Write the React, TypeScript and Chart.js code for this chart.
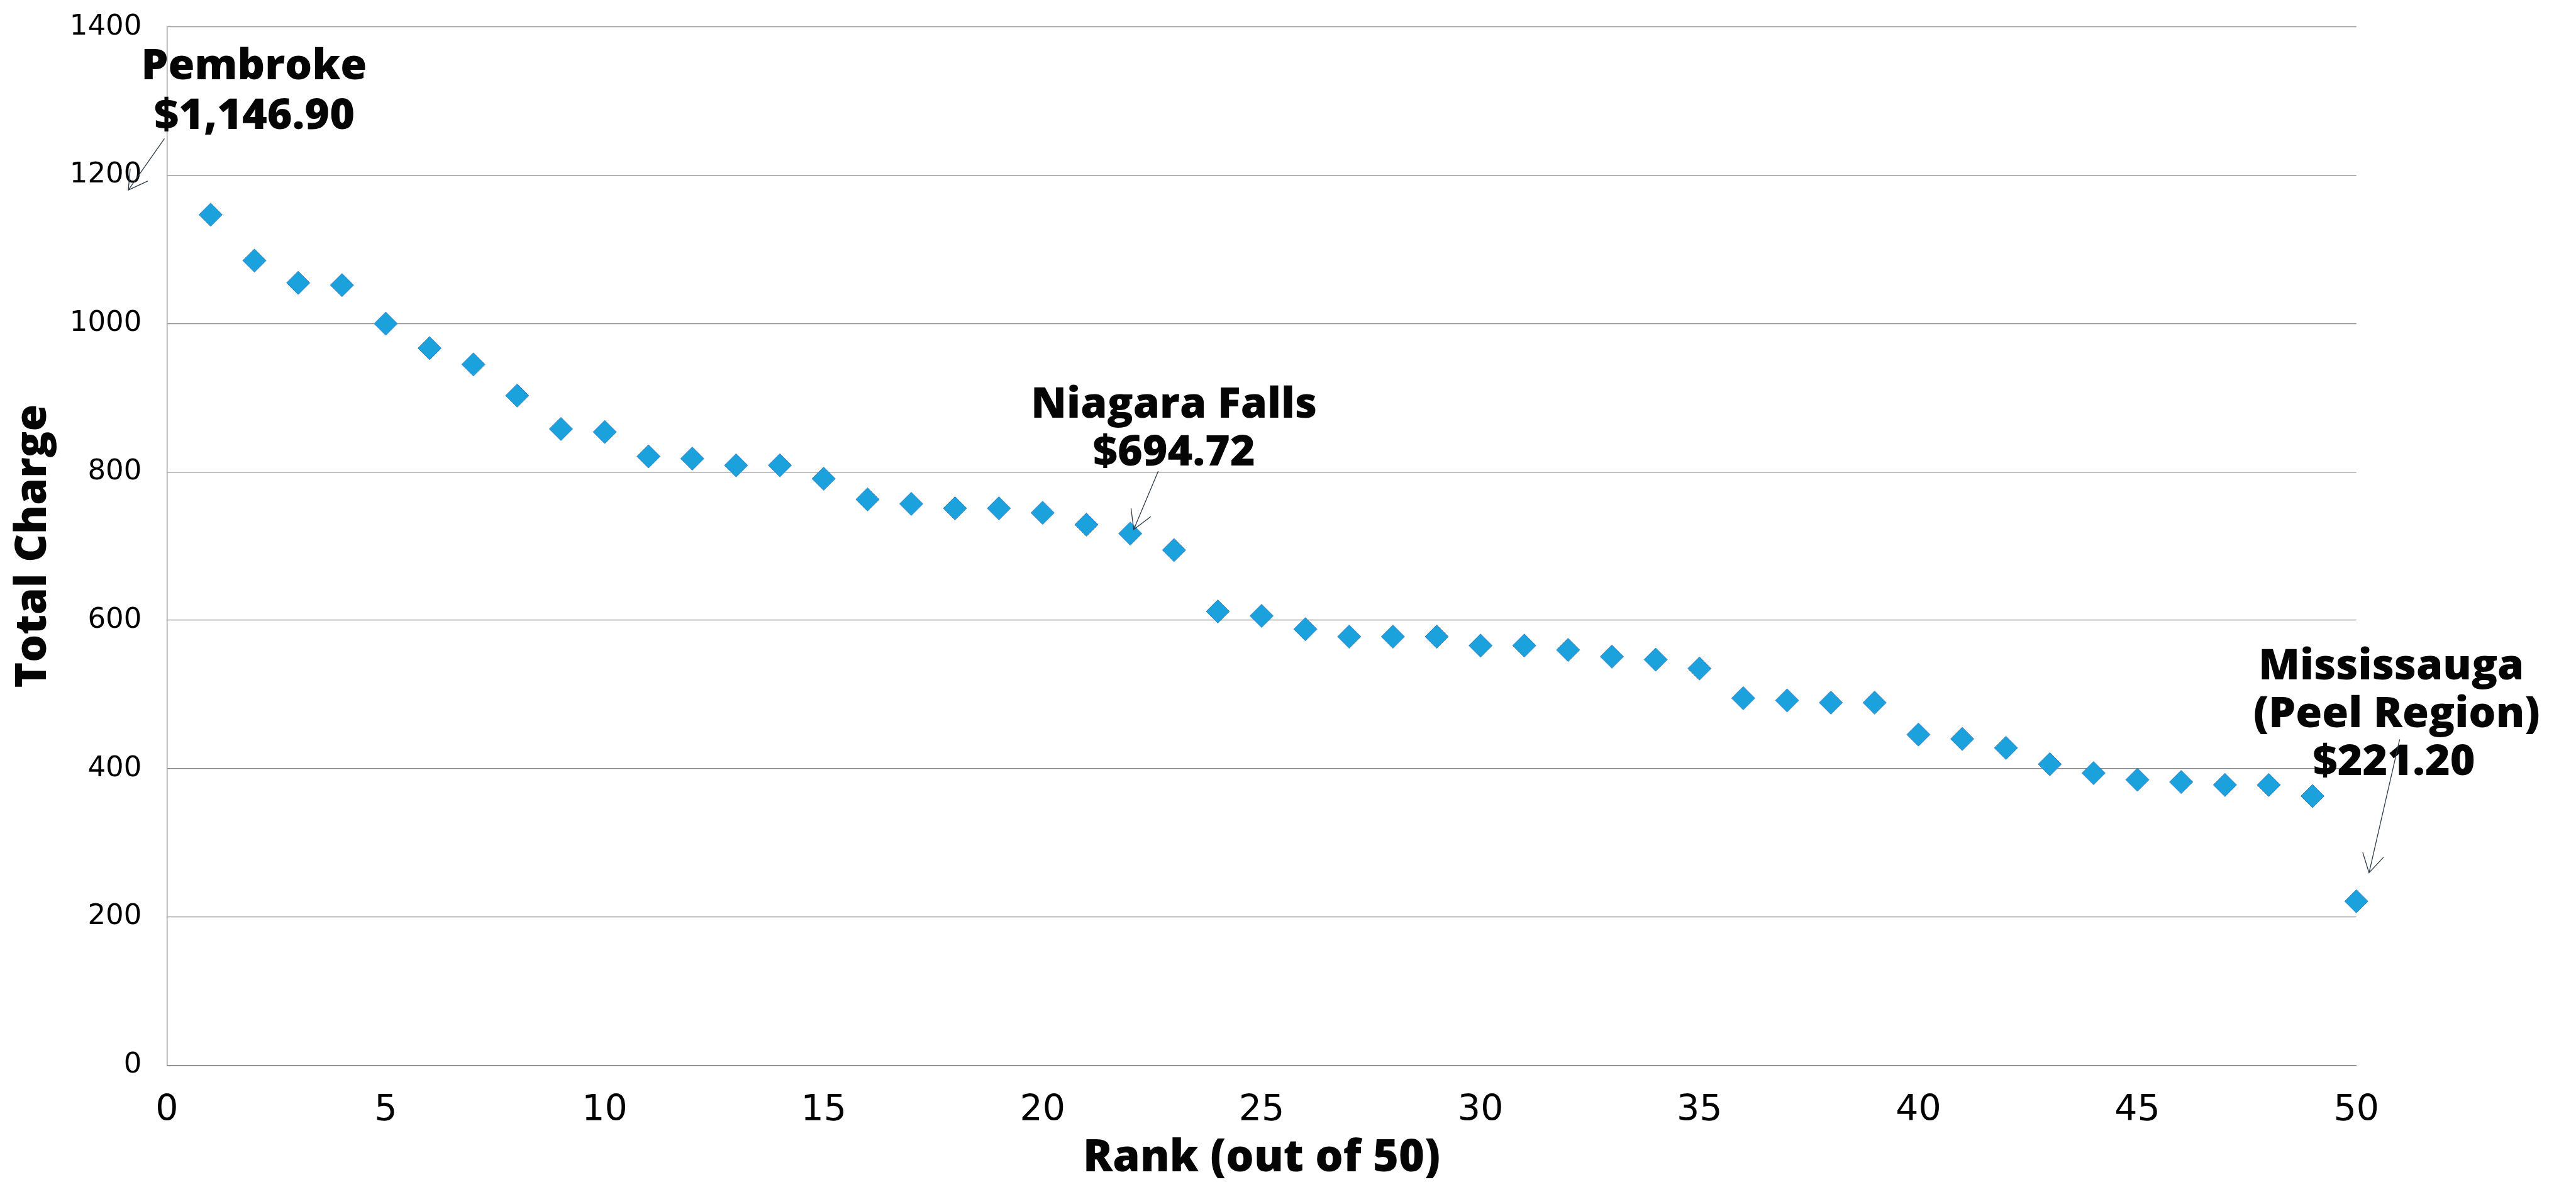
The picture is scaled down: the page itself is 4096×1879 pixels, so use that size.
import React, { useEffect, useRef } from 'react';
import { Chart, registerables } from 'chart.js';

Chart.register(...registerables);

// ---- data ----
const ranks = [
  1, 2, 3, 4, 5, 6, 7, 8, 9, 10,
  11, 12, 13, 14, 15, 16, 17, 18, 19, 20,
  21, 22, 23, 24, 25, 26, 27, 28, 29, 30,
  31, 32, 33, 34, 35, 36, 37, 38, 39, 40,
  41, 42, 43, 44, 45, 46, 47, 48, 49, 50,
];
const totalCharge = [
  1146.9, 1085, 1055, 1052, 1000, 967, 945, 903, 858, 854,
  821, 818, 809, 809, 791, 763, 757, 751, 751, 745,
  729, 717, 694.72, 612, 606, 588, 578, 578, 578, 566,
  566, 560, 551, 547, 535, 495, 492, 489, 489, 446,
  440, 428, 406, 394, 385, 382, 378, 378, 363, 221.2,
];
const xTickValues = [0, 5, 10, 15, 20, 25, 30, 35, 40, 45, 50];
const yTickValues = [0, 200, 400, 600, 800, 1000, 1200, 1400];
const xTitle = 'Rank (out of 50)';
const yTitle = 'Total Charge';

// ---- callouts (anchors in data units) ----
const calloutLines = [
  ['Pembroke', '$1,146.90'],
  ['Niagara Falls', '$694.72'],
  ['Mississauga', '(Peel Region)', '$221.20'],
];
const calloutTextX = [
  [1.99, 2.0],
  [23.0, 23.0],
  [50.8, 50.92, 50.86],
];
const calloutTextY = [
  [1329.7, 1262.4],
  [873.4, 808.9],
  [520.3, 455.9, 391.1],
];
const arrowFrom = [
  [-0.055, 1249.5],
  [22.64, 801.1],
  [50.99, 439.4],
];
const arrowTo = [
  [-0.88, 1180.1],
  [22.08, 722.4],
  [50.29, 259.5],
];

const BOLD_FONT = '"Open Sans", "DejaVu Sans", sans-serif';
const TICK_FONT = '"DejaVu Sans", sans-serif';

const calloutPlugin = {
  id: 'callouts',
  afterDatasetsDraw(chart: any) {
    const { ctx } = chart;
    const xs = chart.scales.x;
    const ys = chart.scales.y;
    ctx.save();
    ctx.fillStyle = '#050505';
    ctx.font = `800 68px ${BOLD_FONT}`;
    ctx.textAlign = 'center';
    ctx.textBaseline = 'alphabetic';
    calloutLines.forEach((lines, k) => {
      lines.forEach((t, i) => {
        ctx.fillText(t, xs.getPixelForValue(calloutTextX[k][i]), ys.getPixelForValue(calloutTextY[k][i]));
      });
    });
    ctx.strokeStyle = '#2b3b4b';
    ctx.lineWidth = 1.3;
    const headLen = 34;
    const headAng = (30 * Math.PI) / 180;
    arrowFrom.forEach((f, k) => {
      const x0 = xs.getPixelForValue(f[0]);
      const y0 = ys.getPixelForValue(f[1]);
      const x1 = xs.getPixelForValue(arrowTo[k][0]);
      const y1 = ys.getPixelForValue(arrowTo[k][1]);
      const ang = Math.atan2(y0 - y1, x0 - x1);
      ctx.beginPath();
      ctx.moveTo(x0, y0);
      ctx.lineTo(x1, y1);
      ctx.moveTo(x1 + headLen * Math.cos(ang - headAng), y1 + headLen * Math.sin(ang - headAng));
      ctx.lineTo(x1, y1);
      ctx.lineTo(x1 + headLen * Math.cos(ang + headAng), y1 + headLen * Math.sin(ang + headAng));
      ctx.stroke();
    });
    ctx.restore();
  },
};

export default function App() {
  const canvasRef = useRef<HTMLCanvasElement | null>(null);

  useEffect(() => {
    document.body.style.margin = '0';
    const canvas = canvasRef.current;
    if (!canvas) return;
    const chart = new Chart(canvas, {
      type: 'scatter',
      data: {
        datasets: [
          {
            data: ranks.map((r, i) => ({ x: r, y: totalCharge[i] })),
            pointStyle: 'rectRot',
            pointRadius: 18.5,
            pointHoverRadius: 18.5,
            backgroundColor: '#1ba1dc',
            borderColor: '#3a80c8',
            borderWidth: 1,
            clip: false,
          } as any,
        ],
      },
      options: {
        animation: false,
        responsive: true,
        maintainAspectRatio: false,
        events: [],
        layout: { padding: { top: 42.9, right: 349.3, left: 0, bottom: 0 } },
        plugins: { legend: { display: false }, tooltip: { enabled: false } },
        scales: {
          x: {
            type: 'linear',
            min: 0,
            max: 50,
            afterBuildTicks: (s: any) => {
              s.ticks = xTickValues.map((v) => ({ value: v }));
            },
            afterFit: (s: any) => {
              s.height = 185.5;
              s.paddingLeft = 0;
              s.paddingRight = 0;
            },
            grid: { display: false, drawTicks: false },
            border: { display: true, color: '#898989', width: 1.4 },
            ticks: {
              font: { family: TICK_FONT, size: 57, weight: 'normal' },
              color: '#000000',
              padding: 38,
              maxRotation: 0,
              autoSkip: false,
              callback: (v: any) => String(v),
            },
            title: {
              display: true,
              text: xTitle,
              color: '#050505',
              font: { family: BOLD_FONT, size: 70, weight: 800 as any, lineHeight: 1 },
              padding: { top: 0, bottom: 2 },
            },
          },
          y: {
            type: 'linear',
            min: 0,
            max: 1400,
            afterBuildTicks: (s: any) => {
              s.ticks = yTickValues.map((v) => ({ value: v }));
            },
            afterFit: (s: any) => {
              s.width = 265.3;
              s.paddingTop = 0;
              s.paddingBottom = 0;
            },
            grid: { display: true, color: '#898989', lineWidth: 1.3, drawTicks: false },
            border: { display: true, color: '#898989', width: 1.4 },
            ticks: {
              font: { family: TICK_FONT, size: 45, weight: 'normal' },
              color: '#000000',
              padding: 40,
              autoSkip: false,
              callback: (v: any) => String(v),
            },
            title: {
              display: true,
              text: yTitle,
              color: '#050505',
              font: { family: BOLD_FONT, size: 69, weight: 800 as any, lineHeight: 1 },
              padding: { top: 19, bottom: 0 },
            },
          },
        },
      },
      plugins: [calloutPlugin],
    });
    return () => chart.destroy();
  }, []);

  return (
    <div style={{ position: 'fixed', left: 0, top: 0, width: '4096px', height: '1879px', background: '#ffffff' }}>
      <canvas ref={canvasRef} />
    </div>
  );
}
